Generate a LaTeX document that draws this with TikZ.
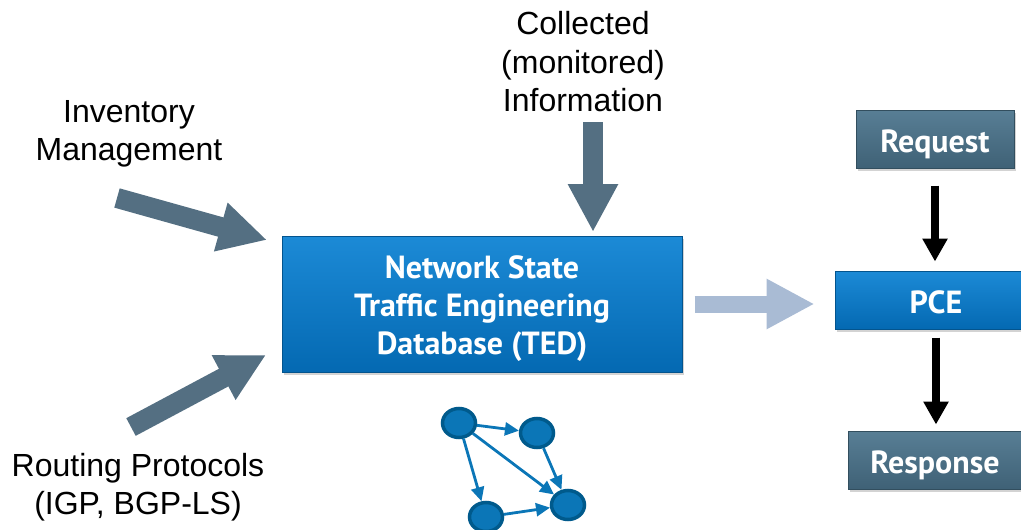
\documentclass[tikz,border=0pt]{standalone}
\usepackage{fontspec}
\setmainfont{Liberation Sans}
\newfontfamily\boxfont{PT Sans}
\usetikzlibrary{arrows.meta,shadows,shapes.geometric}
\definecolor{tedtop}{HTML}{1C8AD6}
\definecolor{tedbot}{HTML}{0469B2}
\definecolor{slatetop}{HTML}{587E95}
\definecolor{slatebot}{HTML}{3F6176}
\definecolor{arrowgray}{HTML}{546F82}
\definecolor{paleblue}{HTML}{A9BBD4}
\definecolor{graphblue}{HTML}{0B76B7}
\definecolor{graphdark}{HTML}{005A8C}

\begin{document}
\begin{tikzpicture}[x=1pt,y=-1pt,
  txt/.style={align=center,font=\fontsize{32}{38.5}\selectfont},
  bluebox/.style={draw=tedbot!80!black,line width=1pt,top color=tedtop,bottom color=tedbot,
    text=white,align=center,font=\boxfont\bfseries\fontsize{32}{38}\selectfont,
    drop shadow={opacity=0.35,shadow xshift=2pt,shadow yshift=-3pt}},
  slatebox/.style={bluebox,top color=slatetop,bottom color=slatebot,draw=slatebot!80!black},
  oneline/.style={text height=26pt,text depth=0pt},
  fatarrow/.style={draw=arrowgray,line width=20pt,-{Triangle[length=48pt,width=47pt]}},
  palearrow/.style={draw=paleblue,line width=17pt,-{Triangle[length=48pt,width=47pt]}},
  blackarrow/.style={draw=black,line width=8.5pt,-{Triangle[length=23pt,width=24pt]}},
  gnode/.style={ellipse,draw=graphdark,fill=graphblue,line width=3.5pt,minimum width=33pt,minimum height=29pt,inner sep=0pt},
  gedge/.style={draw=graphblue,line width=2.8pt,-{Triangle[length=14pt,width=13pt]}}]
\useasboundingbox (0,0) rectangle (1021,530);

% boxes
\node[bluebox,minimum width=400pt,minimum height=136pt] (ted) at (482,304)
  {\rule{0pt}{33pt}Network State\\Traffic Engineering\\Database (TED)};
\node[slatebox,oneline,minimum width=158pt,minimum height=58pt] (req) at (935,139) {Request};
\node[bluebox,oneline,minimum width=202pt,minimum height=58pt] (pce) at (936,300) {PCE};
\node[slatebox,oneline,minimum width=174pt,minimum height=58pt] (resp) at (935,460) {Response};

% inputs
\node[txt] (inv) at (129,134) {Inventory\\Management};
\node[txt] (coll) at (583,62) {Collected\\(monitored)\\Information};
\node[txt] (rout) at (138,487) {Routing Protocols\\(IGP, BGP-LS)};

\coordinate (invtail) at (117,198);
\coordinate (invtip) at (267,240);
\coordinate (colltail) at (593,122);
\coordinate (colltip) at (593,232);
\coordinate (routtail) at (131,427);
\coordinate (routtip) at (266,355);

\draw[fatarrow] (invtail) -- (invtip);
\draw[fatarrow] (colltail) -- (colltip);
\draw[fatarrow] (routtail) -- (routtip);

% to the PCE
\draw[palearrow,shorten <=12pt,shorten >=20pt] (ted.east) -- (ted.east -| pce.west);
\draw[blackarrow,shorten <=17pt,shorten >=9pt] (req.south) -- (req.south |- pce.north);
\draw[blackarrow,shorten <=8pt,shorten >=6pt] (pce.south) -- (pce.south |- resp.north);

% small graph
\node[gnode] (g1) at (459,423) {};
\node[gnode] (g2) at (537,433) {};
\node[gnode] (g3) at (568,505) {};
\node[gnode] (g4) at (486,517) {};
\draw[gedge] (g1) -- (g2);
\draw[gedge] (g1) -- (g3);
\draw[gedge] (g1) -- (g4);
\draw[gedge] (g2) -- (g3);
\draw[gedge] (g4) -- (g3);
\end{tikzpicture}
\end{document}
